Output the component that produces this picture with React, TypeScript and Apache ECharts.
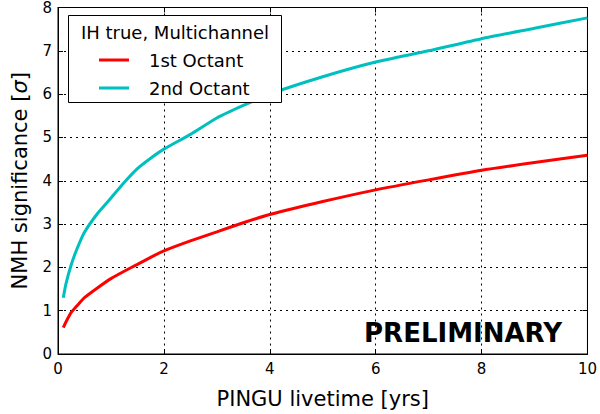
import React, { useEffect, useRef } from "react";
import * as echarts from "echarts";

const livetime = [0.1, 0.15, 0.25, 0.35, 0.5, 0.75, 1, 1.25, 1.5, 1.75, 2, 2.5, 3, 3.5, 4, 5, 6, 7, 8, 9, 10];
const octant1 = [0.61, 0.74, 0.96, 1.1, 1.3, 1.53, 1.74, 1.91, 2.07, 2.23, 2.38, 2.61, 2.82, 3.03, 3.22, 3.52, 3.79, 4.02, 4.24, 4.42, 4.59];
const octant2 = [1.3, 1.62, 2.06, 2.4, 2.81, 3.25, 3.6, 3.96, 4.28, 4.52, 4.73, 5.07, 5.45, 5.74, 6.0, 6.4, 6.74, 7.0, 7.28, 7.52, 7.76];
const seriesNames = ["1st Octant", "2nd Octant"];
const legendTitle = "IH true, Multichannel";
const xTitle = "PINGU livetime [yrs]";
const stamp = "PRELIMINARY";

const FONT = "DejaVu Sans";

export default function App() {
  const ref = useRef<HTMLDivElement>(null);
  useEffect(() => {
    if (!ref.current) return;
    const chart = echarts.init(ref.current, null, { renderer: "svg" });
    const axisCommon = {
      axisLine: { show: true, onZero: false, lineStyle: { color: "#000", width: 1 } },
      axisTick: { show: true, inside: true, length: 5, lineStyle: { color: "#000" } },
    };
    const dotted = { show: true, lineStyle: { color: "#000", type: [2, 4], width: 1 } };
    chart.setOption({
      animation: false,
      backgroundColor: "#fff",
      grid: { left: 58, right: 10, top: 7, bottom: 53, show: true, borderColor: "#000", borderWidth: 1 },
      xAxis: [
        {
          type: "value",
          min: 0,
          max: 10,
          interval: 2,
          position: "bottom",
          ...axisCommon,
          axisLabel: { color: "#000", fontFamily: FONT, fontSize: 15, margin: 7 },
          splitLine: dotted,
          name: xTitle,
          nameLocation: "middle",
          nameGap: 34,
          nameTextStyle: { color: "#000", fontFamily: FONT, fontSize: 21 },
        },
        {
          type: "value",
          min: 0,
          max: 10,
          interval: 2,
          position: "top",
          ...axisCommon,
          axisLabel: { show: false },
          splitLine: { show: false },
        },
      ],
      yAxis: [
        {
          type: "value",
          min: 0,
          max: 8,
          interval: 1,
          position: "left",
          ...axisCommon,
          axisLabel: { color: "#000", fontFamily: FONT, fontSize: 15, margin: 6 },
          splitLine: dotted,
          name: "NMH significance [{i|σ}]",
          nameLocation: "middle",
          nameGap: 28,
          nameTextStyle: {
            color: "#000",
            fontFamily: FONT,
            fontSize: 21,
            rich: { i: { fontStyle: "italic", fontFamily: FONT, fontSize: 21, color: "#000" } },
          },
        },
        {
          type: "value",
          min: 0,
          max: 8,
          interval: 1,
          position: "right",
          ...axisCommon,
          axisLabel: { show: false },
          splitLine: { show: false },
        },
      ],
      legend: {
        data: seriesNames,
        orient: "vertical",
        left: 99,
        top: 49,
        padding: 0,
        itemGap: 6,
        itemWidth: 30,
        itemHeight: 3,
        icon: "rect",
        z: 10,
        textStyle: { color: "#000", fontFamily: FONT, fontSize: 18, lineHeight: 22, padding: [0, 0, 0, 15] },
      },
      graphic: [
        {
          type: "rect",
          shape: { x: 68.5, y: 15.5, width: 213, height: 87 },
          style: { fill: "#fff", stroke: "#000", lineWidth: 1 },
          z: 5,
        },
        {
          type: "text",
          x: 175,
          y: 32,
          style: { text: legendTitle, fill: "#000", font: `18px "${FONT}"`, align: "center", verticalAlign: "middle" },
          z: 6,
        },
        {
          type: "text",
          x: 562,
          y: 333,
          style: { text: stamp, fill: "#000", font: `bold 26px "${FONT}"`, align: "right", verticalAlign: "middle" },
          z: 6,
        },
      ],
      series: [
        {
          name: seriesNames[0],
          type: "line",
          data: livetime.map((x, i) => [x, octant1[i]]),
          showSymbol: false,
          symbol: "none",
          smooth: 0.2,
          color: "#ff0000",
          lineStyle: { color: "#ff0000", width: 3 },
        },
        {
          name: seriesNames[1],
          type: "line",
          data: livetime.map((x, i) => [x, octant2[i]]),
          showSymbol: false,
          symbol: "none",
          smooth: 0.2,
          color: "#00bfbf",
          lineStyle: { color: "#00bfbf", width: 3 },
        },
      ],
    });
    return () => chart.dispose();
  }, []);
  return <div ref={ref} style={{ position: "fixed", left: 0, top: 0, width: 600, height: 414 }} />;
}
